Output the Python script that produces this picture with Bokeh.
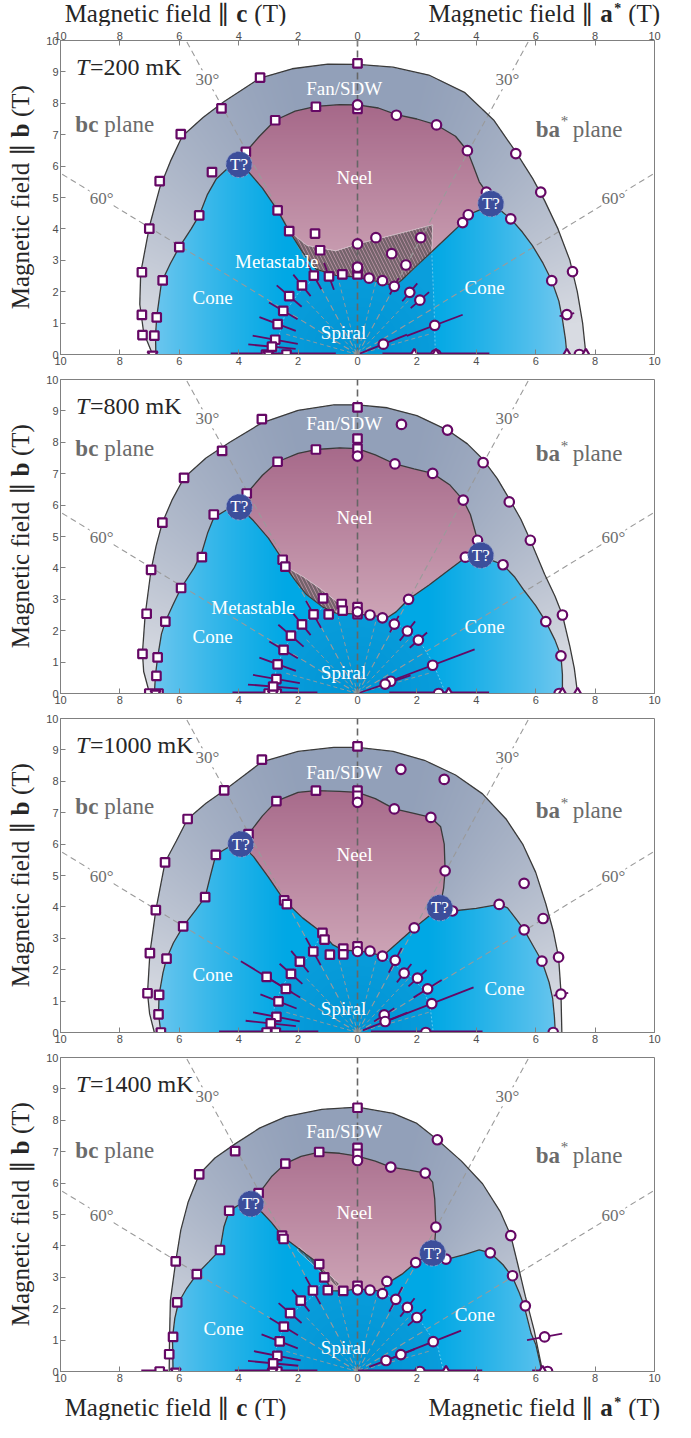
import numpy as np
from bokeh.plotting import figure
from bokeh.models import Range1d, LinearAxis, FixedTicker, Label
from bokeh.layouts import column, row
from bokeh.embed import file_html
from bokeh.resources import INLINE
from bokeh.core.properties import value

SERIF = "Liberation Serif"
SANS = "Liberation Sans"
PURPLE = "#650865"

# ---------------- shared axis data ----------------
X_TICKS = [-10, -8, -6, -4, -2, 0, 2, 4, 6, 8, 10]
X_TICK_LABELS = ["10", "8", "6", "4", "2", "0", "2", "4", "6", "8", "10"]
Y_TICKS = [0, 1, 2, 3, 4, 5, 6, 7, 8, 9, 10]
TEMPS = ["200", "800", "1000", "1400"]
ANGLE_LINES = [-60, -30, 30, 60]
ANGLE_TEXT = ["60°", "30°", "30°", "60°"]
SPIRAL_DIRS = [-75, -45, -15, 15, 45, 75]
TITLE_C = ["Magnetic field ∥", "c", "(T)"]
TITLE_A = ["Magnetic field ∥", "a", "*", "(T)"]
YLABEL = ["Magnetic field ∥", "b", "(T)"]

# ---------------- T = 200 mK ----------------
OUTER_X_200 = [-6.9, -7.2, -7.33, -7.3, -7.1, -7.0, -6.66, -6.3, -5.9, -5.2, -4.5, -3.28, -2.2, -1.0, 0.0, 1.2, 2.4, 3.6, 4.6, 5.33, 5.9, 6.3, 6.75, 7.15, 7.4, 7.58, 7.69]
OUTER_Y_200 = [0.0, 0.7, 1.6, 2.6, 3.6, 4.1, 5.3, 6.15, 6.95, 7.55, 8.05, 8.8, 9.1, 9.25, 9.24, 9.15, 8.9, 8.35, 7.45, 6.45, 5.6, 4.9, 4.0, 3.0, 2.0, 1.0, 0.0]
INNER_L_X_200 = [-6.79, -6.8, -6.76, -6.6, -6.3, -6.0, -5.6, -5.33, -5.05, -4.75, -4.35, -3.99]
INNER_L_Y_200 = [0.0, 0.6, 1.2, 2.3, 2.9, 3.42, 4.0, 4.43, 5.1, 5.6, 5.95, 6.1]
NEEL_TOP_X_200 = [-3.99, -3.76, -3.3, -2.77, -2.1, -1.4, -0.6, 0.0, 0.7, 1.31, 2.0, 2.66, 3.3, 3.7, 3.9, 4.1, 4.34, 4.49]
NEEL_TOP_Y_200 = [6.1, 6.45, 6.95, 7.46, 7.75, 7.9, 7.96, 7.95, 7.85, 7.64, 7.5, 7.31, 6.95, 6.49, 6.0, 5.5, 5.17, 4.85]
INNER_R_X_200 = [4.49, 4.8, 5.16, 5.55, 5.89, 6.25, 6.54, 6.78, 6.9, 7.0, 7.05]
INNER_R_Y_200 = [4.85, 4.6, 4.32, 3.9, 3.47, 2.9, 2.35, 1.7, 1.12, 0.5, 0.0]
NEEL_BOT_X_200 = [4.49, 4.1, 3.73, 3.54, 3.0, 2.5, 2.0, 1.5, 1.24, 0.84, 0.39, 0.0, -0.73, -1.4, -1.85, -2.3, -2.69, -3.2, -3.7, -3.99]
NEEL_BOT_Y_200 = [4.85, 4.6, 4.45, 4.2, 3.72, 3.27, 2.83, 2.38, 2.17, 2.3, 2.38, 2.46, 2.52, 2.72, 3.26, 3.93, 4.59, 5.3, 5.85, 6.1]
SPIRAL_X_200 = [-2.7, -2.62, -2.4, -2.0, -1.6, -1.4, -0.73, 0.0, 0.39, 0.84, 1.24, 1.5, 2.0, 2.5, 2.58, 2.62]
SPIRAL_Y_200 = [0.0, 0.7, 1.4, 1.95, 2.3, 2.72, 2.52, 2.46, 2.38, 2.3, 2.17, 2.38, 2.83, 3.27, 1.5, 0.0]
META_X_200 = [-2.3, -1.7, -0.73, 0.0, 0.84, 1.6, 2.53, 2.5, 2.0, 1.5, 1.24, 0.84, 0.39, 0.0, -0.73, -1.4, -1.85, -2.3]
META_Y_200 = [3.93, 3.47, 3.3, 3.52, 3.72, 3.9, 4.13, 3.27, 2.83, 2.38, 2.17, 2.3, 2.38, 2.46, 2.52, 2.72, 3.26, 3.93]
LBL_T_200 = ["Fan/SDW", "Neel", "Metastable", "Cone", "Cone", "Spiral"]
LBL_X_200 = [-0.45, -0.1, -2.72, -4.88, 4.28, -0.47]
LBL_Y_200 = [8.48, 5.65, 2.96, 1.82, 2.14, 0.7]
TQ_X_200 = [-3.99, 4.49]
TQ_Y_200 = [6.05, 4.8]
SQ_X_200 = [0.0, -3.28, -4.58, -5.95, -6.66, -7.01, -7.26, -7.26, -7.24, -1.40, 0.0, -2.77, -3.76, -4.9, -5.33, -6.0, -6.56, -6.76, -6.84, -2.69, -2.3, -1.43, -1.26, -0.51, 0.0, 0.0, -3.08, -2.39]
SQ_Y_200 = [9.27, 8.82, 7.84, 7.02, 5.52, 4.01, 2.62, 1.26, 0.62, 7.89, 7.82, 7.46, 6.45, 5.81, 4.43, 3.42, 2.36, 1.18, 0.6, 4.59, 3.93, 3.85, 3.32, 2.55, 2.55, 2.75, 0.0, 0.0]
CI_X_200 = [1.31, 2.66, 3.7, 5.33, 6.17, 4.34, 5.16, 3.73, 3.54, 0.62, 2.13, 0.0, 1.15, 1.63, 0.0, 0.39, 0.84, 6.54, 7.24, 0.0, 2.64, 7.47]
CI_Y_200 = [7.62, 7.31, 6.49, 6.4, 5.17, 5.17, 4.32, 4.45, 4.2, 3.72, 3.72, 3.52, 3.21, 2.85, 2.78, 2.43, 2.35, 2.35, 2.64, 7.95, 0.0, 0.0]
ERR_X_200 = [-1.47, -0.96, -1.87, -2.3, -2.5, -2.69, -2.77, -2.88, 1.24, 1.76, 2.1, 2.6, 0.87, 7.05]
ERR_Y_200 = [2.51, 2.49, 2.2, 1.86, 1.39, 0.97, 0.47, 0.25, 2.17, 1.98, 1.73, 0.93, 0.33, 1.27]
ERR_L_200 = [0.5, 0.46, 0.45, 0.54, 0.55, 0.65, 0.77, 0.8, 0.3, 0.38, 0.4, 1.0, 0.85, 0.25]
TRU_X_200 = [1.91, 2.64, 7.05, 7.69]
TRD_X_200 = [-6.9, -3.0]
HERR_X_200 = [-2.5, 2.64]
HERR_W_200 = [1.77, 1.8]

# ---------------- T = 800 mK ----------------
OUTER_X_800 = [-7.0, -7.2, -7.24, -7.15, -6.95, -6.78, -6.57, -6.25, -5.84, -5.1, -4.3, -3.22, -2.0, -0.8, 0.0, 1.0, 2.0, 3.03, 3.7, 4.23, 4.7, 5.11, 5.5, 5.82, 6.3, 6.65, 6.9, 7.15, 7.3, 7.41]
OUTER_Y_800 = [0.0, 0.7, 1.3, 2.5, 3.94, 4.7, 5.44, 6.15, 6.87, 7.5, 8.0, 8.62, 9.02, 9.19, 9.19, 9.1, 8.85, 8.39, 7.95, 7.45, 6.85, 6.2, 5.55, 4.88, 3.8, 3.1, 2.5, 1.5, 0.8, 0.0]
INNER_L_X_800 = [-6.84, -6.8, -6.73, -6.6, -6.47, -6.2, -5.94, -5.5, -5.24, -5.05, -4.84, -4.4, -3.98]
INNER_L_Y_800 = [0.0, 0.6, 1.15, 1.9, 2.29, 2.85, 3.36, 4.0, 4.5, 5.1, 5.6, 5.85, 5.94]
NEEL_TOP_X_800 = [-3.98, -3.73, -3.2, -2.69, -2.0, -1.4, -0.6, 0.0, 0.6, 1.26, 1.9, 2.53, 3.1, 3.56, 3.8, 3.95, 4.04, 4.15]
NEEL_TOP_Y_800 = [5.94, 6.37, 6.95, 7.38, 7.65, 7.77, 7.82, 7.8, 7.6, 7.31, 7.15, 7.01, 6.65, 6.16, 5.7, 5.2, 4.88, 4.45]
INNER_R_X_800 = [4.15, 4.5, 4.9, 5.3, 5.61, 6.0, 6.34, 6.65, 6.85, 6.9, 6.9]
INNER_R_Y_800 = [4.45, 4.25, 4.1, 3.7, 3.28, 2.8, 2.29, 1.7, 1.2, 0.6, 0.0]
NEEL_BOT_X_800 = [4.15, 3.65, 3.1, 2.4, 1.72, 1.3, 1.01, 0.6, 0.0, -0.5, -0.73, -1.16, -1.74, -2.1, -2.43, -2.52, -3.0, -3.5, -3.98]
NEEL_BOT_Y_800 = [4.45, 4.34, 3.95, 3.45, 3.0, 2.6, 2.42, 2.47, 2.53, 2.55, 2.56, 2.75, 3.17, 3.6, 4.04, 4.26, 4.95, 5.5, 5.94]
SPIRAL_X_800 = [-2.85, -2.75, -2.5, -2.1, -1.55, -1.16, -0.73, 0.0, 0.6, 1.01, 1.6, 2.08, 2.53, 2.97]
SPIRAL_Y_800 = [0.0, 0.7, 1.4, 1.95, 2.45, 2.75, 2.56, 2.53, 2.47, 2.42, 2.05, 1.68, 1.0, 0.0]
META_X_800 = [-2.43, -1.8, -1.2, -0.6, -0.73, -1.16, -1.74, -2.1, -2.43]
META_Y_800 = [4.04, 3.7, 3.3, 2.85, 2.56, 2.75, 3.17, 3.6, 4.04]
LBL_T_800 = ["Fan/SDW", "Neel", "Metastable", "Cone", "Cone", "Spiral"]
LBL_X_800 = [-0.45, -0.1, -3.52, -4.88, 4.28, -0.47]
LBL_Y_800 = [8.6, 5.62, 2.75, 1.81, 2.13, 0.67]
TQ_X_800 = [-3.98, 4.15]
TQ_Y_800 = [5.94, 4.4]
SQ_X_800 = [0.0, 0.0, 0.0, -3.22, -4.56, -5.84, -6.57, -6.95, -7.1, -7.24, -7.01, -6.7, -1.4, -2.69, -3.73, -4.84, -5.24, -5.94, -6.47, -6.73, -6.77, -2.52, -2.43, -1.16, -0.53, -0.5, -0.97, 0.0, 0.0, -2.99, -2.72]
SQ_Y_800 = [9.11, 8.12, 7.8, 8.74, 7.73, 6.87, 5.44, 3.94, 2.54, 1.26, 0.0, 0.0, 7.77, 7.38, 6.37, 5.7, 4.34, 3.36, 2.29, 1.15, 0.56, 4.26, 4.04, 3.03, 2.85, 2.64, 2.52, 2.75, 2.53, 0.0, 0.0]
CI_X_800 = [1.48, 3.03, 4.23, 5.11, 5.82, 6.9, 1.26, 2.53, 3.56, 4.04, 3.63, 4.9, 6.34, 6.85, 1.72, 0.42, 0.84, 0.0, 0.0, 2.73, 6.79]
CI_Y_800 = [8.57, 8.39, 7.35, 6.1, 4.88, 2.5, 7.31, 7.01, 6.16, 4.88, 4.34, 4.1, 2.29, 1.2, 3.0, 2.5, 2.41, 7.56, 2.6, 0.0, 0.0]
ERR_X_800 = [-1.48, -1.87, -2.24, -2.49, -2.69, -2.73, -2.84, 1.24, 1.68, 2.05, 2.53, 1.12, 0.93]
ERR_Y_800 = [2.52, 2.2, 1.84, 1.39, 0.93, 0.46, 0.22, 2.21, 1.99, 1.7, 0.9, 0.39, 0.3]
ERR_L_800 = [0.5, 0.45, 0.55, 0.55, 0.65, 0.8, 0.85, 0.3, 0.4, 0.38, 1.5, 0.35, 0.9]
TRU_X_800 = [3.07, 6.9, 7.41]
TRD_X_800 = [-6.8, -2.85]
HERR_X_800 = [-2.78, 2.75]
HERR_W_800 = [1.43, 1.68]

# ---------------- T = 1000 mK ----------------
OUTER_X_1000 = [-6.84, -7.0, -7.07, -6.99, -6.79, -6.48, -6.1, -5.72, -5.1, -4.49, -3.8, -3.22, -2.0, -0.8, 0.0, 1.2, 2.25, 3.3, 4.21, 5.0, 5.56, 6.0, 6.34, 6.6, 6.77, 6.85, 6.88]
OUTER_Y_1000 = [0.0, 0.6, 1.25, 2.53, 3.9, 5.42, 6.1, 6.8, 7.3, 7.71, 8.2, 8.62, 8.95, 9.08, 9.08, 8.95, 8.67, 8.2, 7.6, 6.8, 6.0, 5.1, 4.1, 3.2, 2.4, 1.3, 0.0]
INNER_L_X_1000 = [-6.62, -6.7, -6.68, -6.55, -6.43, -6.2, -5.87, -5.45, -5.13, -4.95, -4.77, -4.35, -3.93]
INNER_L_Y_1000 = [0.0, 0.58, 1.2, 1.9, 2.35, 2.85, 3.38, 3.9, 4.31, 5.0, 5.66, 5.9, 6.0]
NEEL_TOP_X_1000 = [-3.93, -3.67, -3.2, -2.73, -2.0, -1.4, -0.6, 0.0, 0.6, 1.24, 1.9, 2.47, 2.8, 2.92, 2.95, 2.9, 2.8, 2.77]
NEEL_TOP_Y_1000 = [6.0, 6.32, 6.9, 7.37, 7.65, 7.7, 7.68, 7.65, 7.45, 7.12, 6.98, 6.85, 6.55, 6.0, 5.15, 4.6, 4.1, 3.97]
INNER_R_X_1000 = [2.77, 3.2, 4.0, 4.77, 5.05, 5.35, 5.61, 5.95, 6.21, 6.45, 6.57, 6.63, 6.66]
INNER_R_Y_1000 = [3.97, 3.87, 3.95, 4.08, 3.97, 3.6, 3.27, 2.7, 2.27, 1.6, 1.09, 0.5, 0.0]
NEEL_BOT_X_1000 = [2.77, 2.4, 1.91, 1.4, 0.84, 0.42, 0.0, -0.48, -0.84, -1.18, -1.85, -2.47, -3.0, -3.5, -3.93]
NEEL_BOT_Y_1000 = [3.97, 3.7, 3.33, 2.9, 2.43, 2.55, 2.6, 2.62, 2.8, 3.17, 3.65, 4.21, 4.95, 5.6, 6.0]
SPIRAL_X_1000 = [-2.9, -2.8, -2.55, -2.15, -1.6, -1.18, -0.84, -0.48, 0.0, 0.42, 0.84, 1.6, 2.2, 2.45, 2.55]
SPIRAL_Y_1000 = [0.0, 0.8, 1.45, 2.0, 2.45, 3.17, 2.8, 2.62, 2.6, 2.55, 2.43, 1.95, 1.4, 0.8, 0.0]
LBL_T_1000 = ["Fan/SDW", "Neel", "Cone", "Cone", "Spiral"]
LBL_X_1000 = [-0.45, -0.1, -4.88, 4.95, -0.47]
LBL_Y_1000 = [8.29, 5.66, 1.84, 1.39, 0.77]
TQ_X_1000 = [-3.93, 2.77]
TQ_Y_1000 = [6.0, 3.97]
SQ_X_1000 = [0.0, -3.22, -4.49, -5.72, -6.48, -6.79, -6.99, -7.07, 0.0, 0.0, -1.4, -2.73, -3.67, -4.77, -5.13, -5.87, -6.43, -6.68, -6.7, -6.62, -2.47, -2.38, -1.18, -1.11, -0.93, -0.48, -0.48, 0.0, -3.06, -2.75]
SQ_Y_1000 = [9.11, 8.69, 7.71, 6.8, 5.42, 3.9, 2.53, 1.25, 7.7, 7.54, 7.7, 7.37, 6.32, 5.66, 4.31, 3.38, 2.35, 1.2, 0.58, 0.0, 4.21, 4.09, 3.17, 2.96, 2.48, 2.67, 2.49, 2.74, 0.0, 0.0]
CI_X_1000 = [1.46, 2.92, 5.61, 6.25, 6.77, 1.24, 2.47, 2.95, 3.2, 4.77, 5.61, 6.21, 1.91, 0.42, 0.84, 0.0, 0.0, 2.3, 6.59]
CI_Y_1000 = [8.38, 8.06, 4.75, 3.63, 2.4, 7.12, 6.85, 5.15, 3.87, 4.08, 3.27, 2.27, 3.33, 2.59, 2.43, 7.33, 2.58, 0.0, 0.0]
ERR_X_1000 = [-1.49, -1.94, -2.24, -2.41, -3.06, -2.66, -2.73, -2.92, 1.27, 1.57, 2.02, 2.36, 2.5, 0.9, 0.93, 6.85]
ERR_Y_1000 = [2.58, 2.26, 1.87, 1.39, 1.77, 0.99, 0.5, 0.29, 2.3, 1.89, 1.73, 1.39, 0.92, 0.56, 0.35, 1.22]
ERR_L_1000 = [0.5, 0.45, 0.5, 0.55, 1.0, 0.65, 0.8, 0.85, 0.45, 0.38, 0.4, 0.55, 1.5, 0.4, 0.8, 0.25]
TRU_X_1000 = []
TRD_X_1000 = []
HERR_X_1000 = [-2.99, 2.33]
HERR_W_1000 = [1.67, 1.88]

# ---------------- T = 1400 mK ----------------
OUTER_X_1400 = [-6.34, -6.33, -6.3, -6.12, -5.95, -5.7, -5.33, -4.8, -4.12, -3.3, -2.41, -1.2, 0.0, 1.2, 2.0, 2.69, 3.5, 4.21, 4.8, 5.16, 5.4, 5.65, 5.95, 6.23]
OUTER_Y_1400 = [0.0, 1.0, 2.26, 3.51, 4.5, 5.4, 6.28, 6.8, 7.25, 7.75, 8.12, 8.35, 8.42, 8.22, 7.9, 7.38, 6.7, 5.98, 5.1, 4.33, 3.4, 2.4, 1.3, 0.0]
INNER_L_X_1400 = [-6.21, -6.22, -6.23, -6.15, -6.03, -5.75, -5.41, -5.0, -4.63, -4.5, -4.32, -4.0, -3.59]
INNER_L_Y_1400 = [0.0, 0.6, 1.08, 1.7, 2.19, 2.65, 3.1, 3.5, 3.87, 4.6, 5.12, 5.3, 5.34]
NEEL_TOP_X_1400 = [-3.59, -3.31, -2.9, -2.43, -1.9, -1.29, -0.6, 0.0, 0.6, 1.12, 1.7, 2.28, 2.53, 2.6, 2.64, 2.6, 2.53]
NEEL_TOP_Y_1400 = [5.34, 5.68, 6.2, 6.62, 6.85, 6.99, 6.95, 6.86, 6.7, 6.51, 6.42, 6.32, 6.03, 5.5, 4.6, 4.1, 3.77]
INNER_R_X_1400 = [2.53, 3.03, 3.6, 4.1, 4.47, 4.9, 5.22, 5.45, 5.61, 5.85, 6.0, 6.21]
INNER_R_Y_1400 = [3.77, 3.58, 3.72, 3.87, 3.78, 3.4, 3.0, 2.5, 2.09, 1.2, 0.87, 0.0]
NEEL_BOT_X_1400 = [2.53, 1.96, 1.5, 0.99, 0.84, 0.42, 0.0, -0.48, -0.84, -1.12, -1.29, -1.74, -2.52, -2.9, -3.3, -3.59]
NEEL_BOT_Y_1400 = [3.77, 3.47, 3.1, 2.8, 2.55, 2.6, 2.63, 2.57, 2.57, 3.0, 3.42, 3.74, 4.3, 4.75, 5.15, 5.34]
SPIRAL_X_1400 = [-2.85, -2.75, -2.5, -2.1, -1.5, -1.12, -0.84, -0.48, 0.0, 0.42, 0.84, 1.6, 2.2, 2.7, 2.9]
SPIRAL_Y_1400 = [0.0, 0.7, 1.4, 1.95, 2.4, 3.0, 2.57, 2.57, 2.63, 2.6, 2.55, 2.05, 1.5, 0.8, 0.0]
META_X_1400 = [-1.96, -0.61, -0.7, -2.02]
META_Y_1400 = [3.96, 2.79, 2.7, 3.86]
LBL_T_1400 = ["Fan/SDW", "Neel", "Cone", "Cone", "Spiral"]
LBL_X_1400 = [-0.45, -0.1, -4.51, 3.95, -0.47]
LBL_Y_1400 = [7.63, 5.07, 1.38, 1.83, 0.75]
TQ_X_1400 = [-3.59, 2.53]
TQ_Y_1400 = [5.34, 3.77]
SQ_X_1400 = [0.0, -4.12, -5.33, -6.12, -6.07, -6.21, -6.34, -6.66, -1.29, -2.43, -3.33, -4.32, -4.63, -5.41, 0.0, 0.0, -2.54, -2.49, -1.29, -1.12, -1.0, -0.48, 0.0, -2.7]
SQ_Y_1400 = [8.4, 7.02, 6.28, 3.51, 2.2, 1.1, 0.55, 0.0, 6.99, 6.62, 5.68, 5.12, 3.87, 3.1, 7.12, 6.93, 4.33, 4.22, 3.42, 3.0, 2.59, 2.57, 2.73, 0.0]
CI_X_1400 = [2.69, 5.16, 5.22, 5.65, 1.12, 2.28, 2.64, 2.98, 4.47, 1.96, 0.99, 0.84, 0.42, 0.0, 0.0, 2.1, 6.4]
CI_Y_1400 = [7.38, 4.33, 3.05, 2.09, 6.51, 6.32, 4.6, 3.58, 3.78, 3.47, 2.87, 2.48, 2.59, 6.72, 2.6, 0.0, 0.0]
ERR_X_1400 = [-1.5, -1.91, -2.27, -2.48, -2.62, -2.7, -2.84, 1.29, 1.68, 2.0, 2.55, 1.46, 0.96, 6.3]
ERR_Y_1400 = [2.58, 2.26, 1.86, 1.43, 0.96, 0.5, 0.26, 2.3, 2.04, 1.72, 0.95, 0.54, 0.35, 1.1]
ERR_L_1400 = [0.5, 0.45, 0.5, 0.55, 0.65, 0.8, 0.85, 0.45, 0.38, 0.4, 1.0, 0.5, 0.6, 0.6]
TRU_X_1400 = [2.98, 6.23]
TRD_X_1400 = [-6.12, -2.86]
HERR_X_1400 = [-2.74, -6.83, 2.1, 6.23]
HERR_W_1400 = [1.39, 0.45, 2.1, 0.35]

G = globals()

# ---------------- colours ----------------
FAN_TOP = (146, 160, 185)
FAN_SIDE = (216, 219, 226)
CONE_MID = (0, 168, 229)
CONE_EDGE = (110, 199, 239)
SPIRAL_C = (0, 148, 213)
NEEL_LOW = (205, 164, 182)
NEEL_HIGH = (166, 104, 137)

W, H = 594, 314
GX, GY = np.meshgrid(-10 + (np.arange(W) + 0.5) * 20.0 / W, (np.arange(H) + 0.5) * 10.0 / H)


def inside(px, py):
    px = np.asarray(px, float)
    py = np.asarray(py, float)
    res = np.zeros(GX.shape, bool)
    n = len(px)
    for i in range(n):
        j = (i - 1) % n
        xi, yi, xj, yj = px[i], py[i], px[j], py[j]
        if yi == yj:
            continue
        c = ((yi > GY) != (yj > GY)) & (GX < (xj - xi) * (GY - yi) / (yj - yi) + xi)
        res ^= c
    return res


def lerp(c0, c1, t):
    t = t[..., None]
    return np.array(c0, float) * (1 - t) + np.array(c1, float) * t


def region_image(t):
    ox, oy = G["OUTER_X_" + t], G["OUTER_Y_" + t]
    inner_x = G["INNER_L_X_" + t] + G["NEEL_TOP_X_" + t] + G["INNER_R_X_" + t]
    inner_y = G["INNER_L_Y_" + t] + G["NEEL_TOP_Y_" + t] + G["INNER_R_Y_" + t]
    neel_x = G["NEEL_TOP_X_" + t] + G["NEEL_BOT_X_" + t]
    neel_y = G["NEEL_TOP_Y_" + t] + G["NEEL_BOT_Y_" + t]
    outer = inside(ox, oy)
    inner = inside(inner_x, inner_y)
    neel = inside(neel_x, neel_y)
    spiral = inside(G["SPIRAL_X_" + t], G["SPIRAL_Y_" + t]) & inner & ~neel
    theta = np.degrees(np.arctan2(np.abs(GX), GY))
    fan = lerp(FAN_TOP, FAN_SIDE, np.clip((theta - 12) / 70.0, 0, 1) ** 1.3)
    cone = lerp(CONE_MID, CONE_EDGE, np.clip((np.abs(GX) - 2.3) / 4.6, 0, 1) ** 1.2)
    spir = lerp(SPIRAL_C, (10, 158, 220), np.clip(np.hypot(GX, GY) / 3.0, 0, 1))
    neelc = lerp(NEEL_LOW, NEEL_HIGH, np.clip((GY - 2.5) / 5.5, 0, 1))
    rgb = np.zeros((H, W, 3))
    alpha = np.zeros((H, W))
    rgb[outer] = fan[outer]
    alpha[outer] = 255
    rgb[inner] = cone[inner]
    rgb[spiral] = spir[spiral]
    rgb[neel] = neelc[neel]
    img = np.zeros((H, W, 4), np.uint8)
    img[..., :3] = np.clip(rgb, 0, 255).astype(np.uint8)
    img[..., 3] = alpha.astype(np.uint8)
    return img.view(np.uint32).reshape(H, W)


def style_axis(ax):
    ax.major_tick_in = 5
    ax.major_tick_out = 0
    ax.minor_tick_in = 0
    ax.minor_tick_out = 0
    ax.axis_line_color = "#808080"
    ax.major_tick_line_color = "#808080"
    ax.major_label_text_font = SANS
    ax.major_label_text_font_size = "11px"
    ax.major_label_text_color = "#4d4d4d"
    ax.major_label_standoff = 2


def add_label(p, x, y, text, size, color, style="normal", align="left", dx=0, dy=0, bg=None, baseline="alphabetic"):
    lab = Label(x=x, y=y, text=text, x_offset=dx, y_offset=dy, text_font=SERIF,
                text_font_size=size, text_color=color, text_font_style=style,
                text_align=align, text_baseline=baseline)
    if bg is not None:
        lab.background_fill_color = bg
    p.add_layout(lab)


def bare_fig(fw, fh, xr, yr, left, right, top, bottom):
    p = figure(frame_width=fw, frame_height=fh, x_range=Range1d(*xr), y_range=Range1d(*yr),
               x_axis_type=None, y_axis_type=None, output_backend="svg", toolbar_location=None,
               min_border_left=left, min_border_right=right, min_border_top=top, min_border_bottom=bottom)
    p.outline_line_color = None
    p.grid.visible = False
    return p


def text_run(p, x, y, text, size, style="normal", align="left", dx=0, angle=0.0):
    p.text([x], [y], text=[text], x_offset=dx, angle=angle, text_font=value(SERIF),
           text_font_size=size, text_font_style=style, text_color="#262626",
           text_align=align, text_baseline="middle")


def title_fig(height, ytext, star_raise):
    # frame spans the whole row width (page x 8..678); x in field units
    p = bare_fig(670, height, (-12.02, 10.54), (0, 1), 0, 0, 0, 0)
    ax_c = -4.28
    text_run(p, ax_c, ytext, TITLE_C[0], "25px", align="right")
    text_run(p, ax_c, ytext, TITLE_C[1], "25px", style="bold", dx=6)
    text_run(p, ax_c, ytext, TITLE_C[2], "25px", dx=24)
    ax_a = 7.97
    text_run(p, ax_a, ytext, TITLE_A[0], "25px", align="right")
    text_run(p, ax_a, ytext, TITLE_A[1], "25px", style="bold", dx=6)
    text_run(p, ax_a, ytext + star_raise, TITLE_A[2], "14px", style="bold", dx=20)
    text_run(p, ax_a, ytext, TITLE_A[3], "25px", dx=34)
    return p


def ylabel_fig(top, bottom):
    p = bare_fig(40, H, (0, 1), (0, 10), 0, 0, top, bottom)
    ay = 6.72
    half_pi = np.pi / 2
    text_run(p, 0.5, ay, YLABEL[0], "25px", align="right", angle=half_pi)
    text_run(p, 0.5, ay + 6.0 / 31.4, YLABEL[1], "25px", style="bold", angle=half_pi)
    text_run(p, 0.5, ay + 26.5 / 31.4, YLABEL[2], "25px", angle=half_pi)
    return p


def make_panel(t, first, top, bottom):
    p = figure(frame_width=W, frame_height=H, x_range=Range1d(-10, 10), y_range=Range1d(0, 10),
               output_backend="svg", toolbar_location=None,
               min_border_left=20, min_border_right=16,
               min_border_top=top, min_border_bottom=bottom)
    p.grid.visible = False
    p.outline_line_color = "#808080"
    p.border_fill_color = "white"
    overrides = {tk: lb for tk, lb in zip(X_TICKS, X_TICK_LABELS)}
    p.xaxis.ticker = FixedTicker(ticks=X_TICKS)
    p.xaxis.major_label_overrides = overrides
    p.yaxis.ticker = FixedTicker(ticks=Y_TICKS)
    style_axis(p.xaxis[0])
    style_axis(p.yaxis[0])
    if first:
        topax = LinearAxis(ticker=FixedTicker(ticks=X_TICKS), major_label_overrides=overrides)
        style_axis(topax)
        topax.major_label_standoff = 1
        p.add_layout(topax, "above")

    # phase regions
    p.image_rgba(image=[region_image(t)], x=-10, y=0, dw=20, dh=10)

    if ("META_X_" + t) in G:
        p.patch(G["META_X_" + t], G["META_Y_" + t], fill_color="#b88ea3", fill_alpha=0.25,
                hatch_pattern="\\", hatch_color="#404040", hatch_alpha=0.6, hatch_scale=7,
                hatch_weight=2.5, line_color="white", line_alpha=0.6, line_width=0.8)

    # light spiral boundary
    p.line(G["SPIRAL_X_" + t], G["SPIRAL_Y_" + t], line_color="#cfeefb", line_alpha=0.55,
           line_width=0.9, line_dash="2 2")

    # direction lines
    for a in SPIRAL_DIRS:
        r = np.radians(a)
        p.line([0, 2.5 * np.sin(r)], [0, 2.5 * np.cos(r)], line_color="#9a9a9a", line_width=1.0,
               line_dash="4 3", line_alpha=0.9)
    for a in ANGLE_LINES:
        r = np.radians(a)
        p.line([0, 13 * np.sin(r)], [0, 13 * np.cos(r)], line_color="#9a9a9a", line_width=1.1,
               line_dash="6 4")
    p.line([0, 0], [0, 10], line_color="#666666", line_width=1.6, line_dash="7 4")

    # boundaries
    bc = "#3a3a3a"
    p.line(G["OUTER_X_" + t], G["OUTER_Y_" + t], line_color=bc, line_width=1.3)
    p.line(G["INNER_L_X_" + t] + G["NEEL_TOP_X_" + t] + G["INNER_R_X_" + t],
           G["INNER_L_Y_" + t] + G["NEEL_TOP_Y_" + t] + G["INNER_R_Y_" + t], line_color=bc, line_width=1.3)
    p.line(G["NEEL_BOT_X_" + t], G["NEEL_BOT_Y_" + t], line_color=bc, line_width=1.3)

    # error bars along field direction
    ex = np.array(G["ERR_X_" + t])
    ey = np.array(G["ERR_Y_" + t])
    el = np.array(G["ERR_L_" + t])
    phi = np.arctan2(ey, ex)
    p.segment(ex - el * np.cos(phi), ey - el * np.sin(phi), ex + el * np.cos(phi), ey + el * np.sin(phi),
              line_color=PURPLE, line_width=1.8)
    hx = np.array(G["HERR_X_" + t])
    hw = np.array(G["HERR_W_" + t])
    p.segment(hx - hw, np.zeros_like(hx), hx + hw, np.zeros_like(hx), line_color=PURPLE, line_width=4)

    # markers
    mk = dict(fill_color="white", line_color=PURPLE, line_width=2.2)
    p.scatter(G["SQ_X_" + t], G["SQ_Y_" + t], marker="square", size=8.5, **mk)
    p.scatter(G["CI_X_" + t], G["CI_Y_" + t], marker="circle", size=9.5, **mk)
    sqe = ex < 0
    p.scatter(ex[sqe], ey[sqe], marker="square", size=8.5, **mk)
    p.scatter(ex[~sqe], ey[~sqe], marker="circle", size=9.5, **mk)
    tu = G["TRU_X_" + t]
    td = G["TRD_X_" + t]
    p.scatter(tu, [0.0] * len(tu), marker="triangle", size=10, **mk)
    p.scatter(td, [0.0] * len(td), marker="inverted_triangle", size=10, **mk)

    # T? points
    tqx, tqy = G["TQ_X_" + t], G["TQ_Y_" + t]
    p.scatter(tqx, tqy, marker="circle", size=26, fill_color="#3c4e9b", line_color="#8c99c8",
              line_width=1, line_dash="3 2")
    p.text(tqx, tqy, text=["T?"] * len(tqx), text_font=value(SERIF), text_font_size="17px",
           text_color="white", text_align="center", text_baseline="middle")

    # region names
    p.text(G["LBL_X_" + t], G["LBL_Y_" + t], text=G["LBL_T_" + t], text_font=value(SERIF),
           text_font_size="19px", text_color="white", text_align="center", text_baseline="middle")

    # angle labels
    for a, s in zip(ANGLE_LINES, ANGLE_TEXT):
        r = np.radians(a)
        rad = 10.1 if abs(a) == 30 else 9.95
        add_label(p, rad * np.sin(r), rad * np.cos(r), s, "17px", "#6e6e6e", align="center",
                  baseline="middle", bg="white")

    # temperature, planes
    add_label(p, -9.48, 9.17, "T", "24px", "#262626", style="italic")
    add_label(p, -9.48, 9.17, "=" + t + " mK", "24px", "#262626", dx=14)
    py_bc = {"200": 7.33, "800": 7.8, "1000": 7.19, "1400": 7.04}[t]
    py_ba = {"200": 7.17, "800": 7.63, "1000": 7.06, "1400": 6.88}[t]
    add_label(p, -9.5, py_bc, "bc", "23px", "#6b6b6b", style="bold")
    add_label(p, -9.5, py_bc, "plane", "23px", "#6b6b6b", dx=29)
    add_label(p, 6.0, py_ba, "ba", "23px", "#6b6b6b", style="bold")
    add_label(p, 6.0, py_ba, "*", "15px", "#6b6b6b", dx=25, dy=8)
    add_label(p, 6.0, py_ba, "plane", "23px", "#6b6b6b", dx=37)
    return p


rows = [title_fig(26, 0.5, 0.18)]
for i, t in enumerate(TEMPS):
    first = i == 0
    last = i == len(TEMPS) - 1
    top = 14 if first else 7
    bottom = 16 if last else 18
    rows.append(row(ylabel_fig(top, bottom), make_panel(t, first, top, bottom)))
rows.append(title_fig(33, 0.394, 0.16))
layout = column(*rows)
open("out.html", "w").write(file_html(layout, INLINE))
